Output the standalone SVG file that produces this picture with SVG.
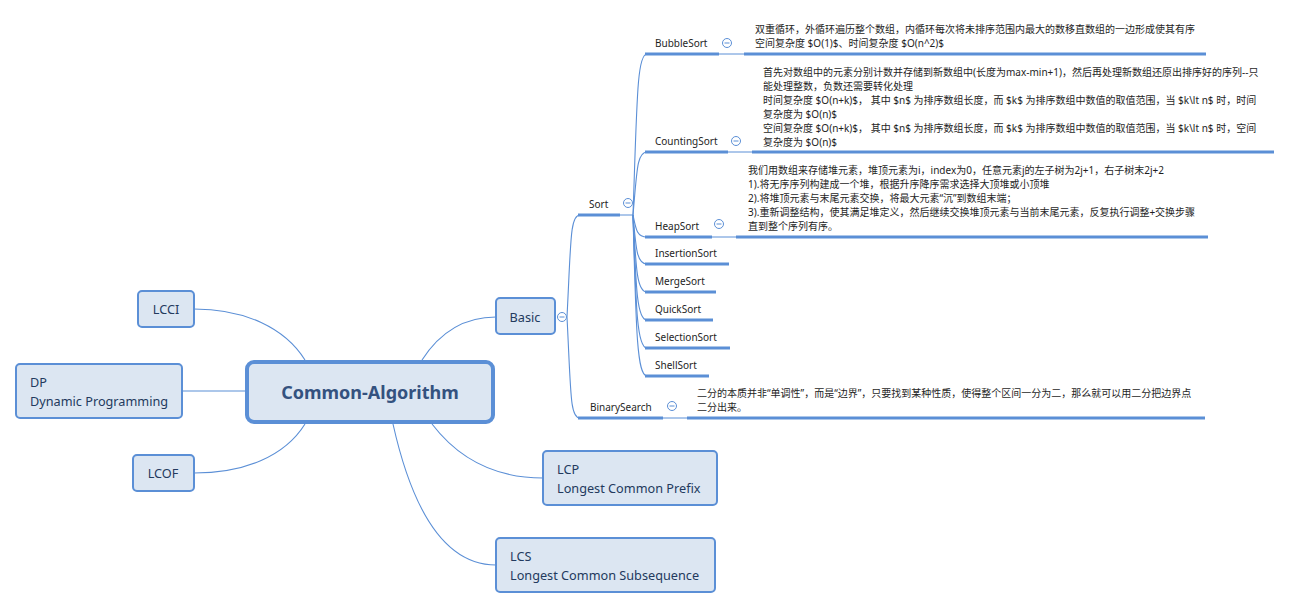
<svg xmlns="http://www.w3.org/2000/svg" width="1292" height="609" viewBox="0 0 1292 609">
<defs>
<style>
.bg{fill:#ffffff}
.node rect{fill:#dce6f2;stroke:#5b8fd6;stroke-width:2}
.ntxt{font-family:"Noto Sans","Open Sans",sans-serif;font-size:12.7px;fill:#233a5e}
.ctxt{font-family:"Noto Sans","Open Sans",sans-serif;font-size:18px;font-weight:bold;fill:#34527f}
.conn{fill:none;stroke:#5b8fd6;stroke-width:1.1}
.ul{stroke:#5b8fd6;stroke-width:3;fill:none}
.thin{stroke:#5b8fd6;stroke-width:1;fill:none}
.lbl{font-family:"Noto Sans","Open Sans",sans-serif;font-size:10px;fill:#1e1e1e}
.note{font-family:"Noto Sans","Noto Sans CJK SC",sans-serif;font-size:10px;fill:#1e1e1e}
.col circle{fill:#ffffff;stroke:#5b8fd6;stroke-width:1}
.col line{stroke:#5b8fd6;stroke-width:1}
</style>
</defs>
<rect class="bg" x="0" y="0" width="1292" height="609"/>

<g id="connectors">
<path class="conn" d="M305,360 C285,328 245,309 194,309"/>
<path class="conn" d="M246,391 L182,391"/>
<path class="conn" d="M305,424 C285,456 245,473 194,473"/>
<path class="conn" d="M422,360 C440,332 465,317 496,317"/>
<path class="conn" d="M432,424 C458,458 495,478 543,478"/>
<path class="conn" d="M393,424 C410,500 440,565 496,565"/>
<path class="conn" d="M567,317 C571,240 570,215 580,215"/>
<path class="conn" d="M567,317 C571,395 570,418 580,418"/>
<path class="conn" d="M633,215 C637,100 637,54 647,54"/>
<path class="conn" d="M633,215 C637,170 637,152 647,152"/>
<path class="conn" d="M633,215 C636,230 637,237 647,237"/>
<path class="conn" d="M633,215 C636,250 637,264 647,264"/>
<path class="conn" d="M633,215 C636,270 637,292 647,292"/>
<path class="conn" d="M633,215 C636,290 637,320 647,320"/>
<path class="conn" d="M633,215 C636,310 637,348 647,348"/>
<path class="conn" d="M633,215 C636,330 637,376 647,376"/>
<path class="thin" d="M620,215 L633,215"/>
<path class="thin" d="M719,54 L744,54"/>
<path class="thin" d="M728,152 L752,152"/>
<path class="thin" d="M712,237 L736,237"/>
<path class="thin" d="M663,418 L687,418"/>
</g>

<g id="central">
<rect x="247" y="362" width="246" height="60" rx="7" fill="#dce6f2" stroke="#5b8fd6" stroke-width="4"/>
<text class="ctxt" x="370" y="399" text-anchor="middle">Common-Algorithm</text>
</g>

<g id="lcci" class="node">
<rect x="138" y="291" width="56" height="36" rx="4"/>
<text class="ntxt" x="166" y="314" text-anchor="middle">LCCI</text>
</g>

<g id="dp" class="node">
<rect x="16" y="364" width="166" height="54" rx="4"/>
<text class="ntxt" x="30" y="387">DP</text>
<text class="ntxt" x="30" y="406">Dynamic Programming</text>
</g>

<g id="lcof" class="node">
<rect x="133" y="455" width="61" height="36" rx="4"/>
<text class="ntxt" x="163" y="478" text-anchor="middle">LCOF</text>
</g>

<g id="basic" class="node">
<rect x="496" y="298" width="59" height="36" rx="4"/>
<text class="ntxt" x="525" y="322" text-anchor="middle">Basic</text>
</g>
<g class="col"><circle cx="562" cy="317" r="4.5"/><line x1="559.5" y1="317" x2="564.5" y2="317"/></g>

<g id="lcp" class="node">
<rect x="543" y="451" width="174" height="54" rx="4"/>
<text class="ntxt" x="557" y="474">LCP</text>
<text class="ntxt" x="557" y="493">Longest Common Prefix</text>
</g>

<g id="lcs" class="node">
<rect x="496" y="538" width="219" height="54" rx="4"/>
<text class="ntxt" x="510" y="561">LCS</text>
<text class="ntxt" x="510" y="580">Longest Common Subsequence</text>
</g>

<g id="sort">
<line class="ul" x1="578" y1="215" x2="620" y2="215"/>
<text class="lbl" x="589" y="208">Sort</text>
<g class="col"><circle cx="628" cy="203" r="4.5"/><line x1="625.5" y1="203" x2="630.5" y2="203"/></g>
</g>

<g id="bubblesort">
<line class="ul" x1="645" y1="54" x2="719" y2="54"/>
<text class="lbl" x="655" y="47">BubbleSort</text>
<g class="col"><circle cx="727" cy="43" r="4.5"/><line x1="724.5" y1="43" x2="729.5" y2="43"/></g>
<line class="ul" x1="744" y1="54" x2="1206" y2="54"/>
<text class="note" x="755" y="33">双重循环，外循环遍历整个数组，内循环每次将未排序范围内最大的数移直数组的一边形成使其有序</text>
<text class="note" x="755" y="47">空间复杂度 $O(1)$、时间复杂度 $O(n^2)$</text>
</g>

<g id="countingsort">
<line class="ul" x1="645" y1="152" x2="728" y2="152"/>
<text class="lbl" x="655" y="145">CountingSort</text>
<g class="col"><circle cx="736" cy="141" r="4.5"/><line x1="733.5" y1="141" x2="738.5" y2="141"/></g>
<line class="ul" x1="752" y1="152" x2="1274" y2="152"/>
<text class="note" x="763" y="76">首先对数组中的元素分别计数并存储到新数组中(长度为max-min+1)，然后再处理新数组还原出排序好的序列--只</text>
<text class="note" x="763" y="90">能处理整数，负数还需要转化处理</text>
<text class="note" x="763" y="104">时间复杂度 $O(n+k)$， 其中 $n$ 为排序数组长度，而 $k$ 为排序数组中数值的取值范围，当 $k\lt n$ 时，时间</text>
<text class="note" x="763" y="118">复杂度为 $O(n)$</text>
<text class="note" x="763" y="132">空间复杂度 $O(n+k)$， 其中 $n$ 为排序数组长度，而 $k$ 为排序数组中数值的取值范围，当 $k\lt n$ 时，空间</text>
<text class="note" x="763" y="146">复杂度为 $O(n)$</text>
</g>

<g id="heapsort">
<line class="ul" x1="645" y1="237" x2="712" y2="237"/>
<text class="lbl" x="655" y="230">HeapSort</text>
<g class="col"><circle cx="719" cy="224" r="4.5"/><line x1="716.5" y1="224" x2="721.5" y2="224"/></g>
<line class="ul" x1="736" y1="237" x2="1208" y2="237"/>
<text class="note" x="748" y="174">我们用数组来存储堆元素，堆顶元素为i，index为0，任意元素j的左子树为2j+1，右子树末2j+2</text>
<text class="note" x="748" y="188">1).将无序序列构建成一个堆，根据升序降序需求选择大顶堆或小顶堆</text>
<text class="note" x="748" y="202">2).将堆顶元素与末尾元素交换，将最大元素“沉”到数组末端；</text>
<text class="note" x="748" y="216">3).重新调整结构，使其满足堆定义，然后继续交换堆顶元素与当前末尾元素，反复执行调整+交换步骤</text>
<text class="note" x="748" y="230">直到整个序列有序。</text>
</g>

<g id="insertionsort">
<line class="ul" x1="645" y1="264" x2="729" y2="264"/>
<text class="lbl" x="655" y="257">InsertionSort</text>
</g>
<g id="mergesort">
<line class="ul" x1="645" y1="292" x2="716" y2="292"/>
<text class="lbl" x="655" y="285">MergeSort</text>
</g>
<g id="quicksort">
<line class="ul" x1="645" y1="320" x2="713" y2="320"/>
<text class="lbl" x="655" y="313">QuickSort</text>
</g>
<g id="selectionsort">
<line class="ul" x1="645" y1="348" x2="730" y2="348"/>
<text class="lbl" x="655" y="341">SelectionSort</text>
</g>
<g id="shellsort">
<line class="ul" x1="645" y1="376" x2="709" y2="376"/>
<text class="lbl" x="655" y="369">ShellSort</text>
</g>

<g id="binarysearch">
<line class="ul" x1="578" y1="418" x2="663" y2="418"/>
<text class="lbl" x="590" y="411">BinarySearch</text>
<g class="col"><circle cx="672" cy="406" r="4.5"/><line x1="669.5" y1="406" x2="674.5" y2="406"/></g>
<line class="ul" x1="687" y1="418" x2="1205" y2="418"/>
<text class="note" x="697" y="397">二分的本质并非“单调性”，而是“边界”，只要找到某种性质，使得整个区间一分为二，那么就可以用二分把边界点</text>
<text class="note" x="697" y="411">二分出来。</text>
</g>
</svg>
